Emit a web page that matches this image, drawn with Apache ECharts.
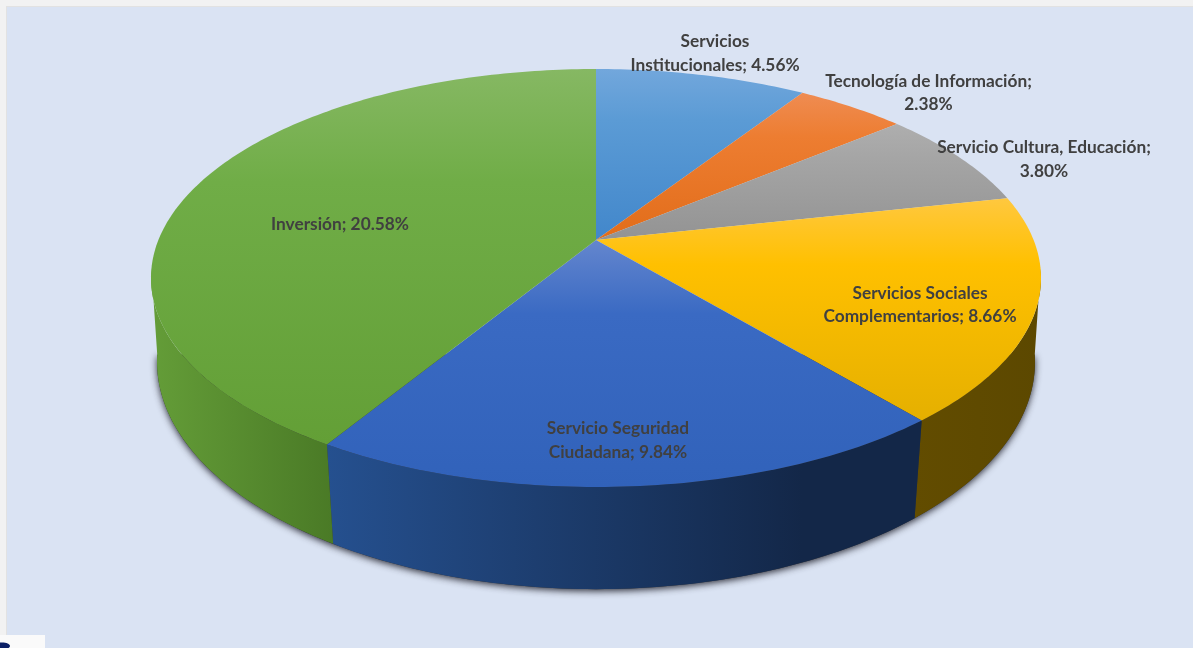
<!DOCTYPE html>
<html><head><meta charset="utf-8">
<style>html,body{margin:0;padding:0;background:#F2F2F2;overflow:hidden}#c{width:1193px;height:648px;filter:blur(0.5px)}</style>
<script src="https://cdn.jsdelivr.net/npm/echarts@6/dist/echarts.min.js"></script>
</head><body><div id="c"></div>
<script>
const categories = ['Servicios Institucionales','Tecnología de Información','Servicio Cultura, Educación','Servicios Sociales Complementarios','Servicio Seguridad Ciudadana','Inversión'];
const values = [4.56, 2.38, 3.80, 8.66, 9.84, 20.58];
const labels = ['Servicios\nInstitucionales; 4.56%','Tecnología de Información;\n2.38%','Servicio Cultura, Educación;\n3.80%','Servicios Sociales\nComplementarios; 8.66%','Servicio Seguridad\nCiudadana; 9.84%','Inversión; 20.58%'];

// styling and layout, separate from the data
const labelAnchors = [[715,53.5],[928.5,93],[1044,159.5],[920,305],[618,440.5],[340,224]];
const topColors = [['#72A7DC','#5B9BD5','#4287CB'],['#EF8C52','#ED7D31','#E26D1A'],['#AEAEAE','#A5A5A5','#939393'],['#FFC83F','#FFC000','#E5B000'],['#6486CE','#3A6AC3','#3162BA'],['#86B863','#70AD47','#639F36']];
const wallColors = [['#2E5F8C','#2E5F8C'],['#8A4A1C','#8A4A1C'],['#636363','#636363'],['#624C00','#5C4800'],['#25508F','#132748'],['#649D38','#4A7A26']];
const CX=596, APEX=240;
const T={D:437.6,A:-158.45,B:240,C:0.1818}, R={D:432.6,A:-166,B:323,C:0.17};
const WALL_FROM=98*Math.PI/180, WALL_TO=262*Math.PI/180;

const total = values.reduce((a,b)=>a+b,0);
const proj = g=>t=>{const u=Math.sin(t),v=Math.cos(t),k=1+g.C*v;return [CX+g.D*u/k,(g.A*v+g.B)/k];};
const top3 = proj(T), bot3 = proj(R);
const arc = (fn,a,b)=>{const n=Math.max(4,Math.ceil((b-a)*60)),r=[];for(let i=0;i<=n;i++)r.push(fn(a+(b-a)*i/n));return r;};
const range = i=>{let s=0;for(let k=0;k<i;k++)s+=values[k];return [s/total*2*Math.PI,(s+values[i])/total*2*Math.PI];};
const grad = (x2,y2,stops)=>new echarts.graphic.LinearGradient(0,0,x2,y2,stops);

const option = {
  animation:false,
  backgroundColor:'#F2F2F2',
  graphic:[
    {type:'rect',z:-10,shape:{x:6,y:6,width:1190,height:650},style:{fill:'#E2E2E2'},silent:true},
    {type:'rect',z:-9,shape:{x:7,y:7,width:1190,height:650},style:{fill:'#DAE3F3'},silent:true},
    {type:'rect',z:-8,shape:{x:0,y:635,width:45,height:13},style:{fill:'#FAFAFA'},silent:true},
    {type:'ellipse',z:-7,shape:{cx:2,cy:646,rx:8,ry:3.5},style:{fill:'#0B1F66'},silent:true}
  ],
  series:[
    {type:'custom',coordinateSystem:'none',silent:true,z:1,data:[total],
     renderItem:()=>({type:'polygon',shape:{points:arc(bot3,WALL_FROM,WALL_TO)},
       style:{fill:'#333',shadowBlur:7,shadowColor:'rgba(30,30,40,0.9)',shadowOffsetX:0,shadowOffsetY:2}})},
    {type:'custom',coordinateSystem:'none',silent:true,z:2,data:values,
     renderItem:(p,api)=>{const i=p.dataIndex;let [a,b]=range(i);const c=wallColors[i];
       a=Math.max(a,WALL_FROM);b=Math.min(b,WALL_TO);
       if(b<=a) return {type:'group',children:[]};
       const pts=arc(top3,a,b).concat(arc(bot3,a,b).reverse());
       return {type:'polygon',shape:{points:pts},style:{fill:grad(1,0,[{offset:0,color:c[0]},{offset:i===4?0.8:1,color:c[1]},{offset:1,color:c[1]}])}};}},
    {type:'custom',coordinateSystem:'none',silent:true,z:3,data:values,
     renderItem:(p,api)=>{const i=p.dataIndex,[a,b]=range(i),c=topColors[i];
       const pts=[[CX,APEX]].concat(arc(top3,a,b));
       return {type:'polygon',shape:{points:pts},style:{fill:grad(0,1,[{offset:0,color:c[0]},{offset:0.3,color:c[1]},{offset:1,color:c[2]}])}};}},
    {type:'custom',name:'etiquetas',coordinateSystem:'none',silent:true,z:4,data:categories.map((n,i)=>({name:n,value:values[i]})),
     renderItem:(p)=>{const i=p.dataIndex,q=labelAnchors[i];
       return {type:'text',style:{x:q[0],y:q[1],text:labels[i],align:'center',verticalAlign:'middle',
         fill:'#404040',font:'bold 17.3px Lato, "Open Sans", sans-serif',lineHeight:23.5}};}}
  ]
};
echarts.init(document.getElementById('c'),null,{renderer:'canvas'}).setOption(option);
</script></body></html>
